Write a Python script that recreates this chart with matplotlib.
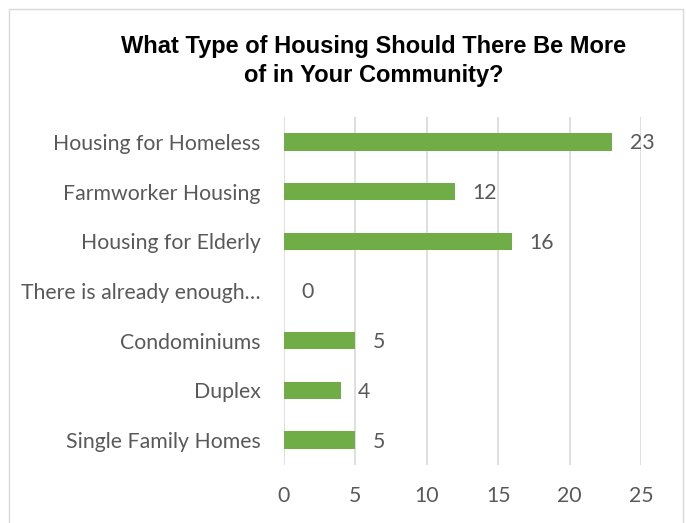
import matplotlib
matplotlib.use("Agg")
import matplotlib.pyplot as plt
from matplotlib.patches import Rectangle

categories = ["Housing for Homeless", "Farmworker Housing", "Housing for Elderly",
              "There is already enough…", "Condominiums", "Duplex", "Single Family Homes"]
values = [23, 12, 16, 0, 5, 4, 5]
xticks = [0, 5, 10, 15, 20, 25]

W, H = 686, 523
fig = plt.figure(figsize=(W / 100, H / 100), dpi=100)
fig.patches.append(Rectangle((9 / W, -5 / H), 674 / W, 519 / H, transform=fig.transFigure,
                             fill=False, edgecolor="#d9d9d9", linewidth=1.0))

ax = fig.add_axes([284 / W, 1 - 465 / H, (641 - 284) / W, (465 - 117) / H])
ypos = list(range(len(categories)))[::-1]
bar_color = "#70ad47"
text_color = "#595959"
lab_font = ["Lato", "DejaVu Sans"]
fs = 15.3

ax.barh(ypos, values, height=0.35, color=bar_color, zorder=3)
for y, v in zip(ypos, values):
    ax.text(v + 1.2, y - 0.03, str(v), va="center", ha="left", fontsize=fs,
            color=text_color, family=lab_font)

ax.set_xlim(0, 25)
ax.set_ylim(-0.5, len(categories) - 0.5)
ax.set_xticks(xticks)
ax.set_xticklabels([str(t) for t in xticks], fontsize=fs, color=text_color, family=lab_font)
ax.set_yticks(ypos)
ax.set_yticklabels(categories, fontsize=fs, color=text_color, family=lab_font)
ax.tick_params(axis="both", length=0)
ax.tick_params(axis="x", pad=15)
ax.tick_params(axis="y", pad=17)
ax.grid(axis="x", color="#d9d9d9", linewidth=1.2, zorder=0)
for s in ax.spines.values():
    s.set_visible(False)

fig.text(374 / W, 1 - 61 / H, "What Type of Housing Should There Be More\nof in Your Community?",
         ha="center", va="center", fontsize=17, fontweight="bold",
         family="Liberation Sans", linespacing=1.3)

fig.savefig("out.png", dpi=100)
